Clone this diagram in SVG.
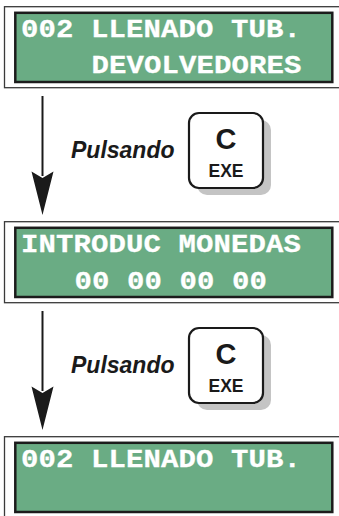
<svg xmlns="http://www.w3.org/2000/svg" width="339" height="516" viewBox="0 0 339 516">
  <style>
    .frame { fill: none; stroke: #3a3a3a; stroke-width: 1.3; }
    .lcd { fill: #6aac84; stroke: #1c1c1c; stroke-width: 2.5; }
    .lcdtxt { font-family: "Liberation Mono", "Courier New", monospace; font-weight: bold; font-size: 29px; fill: #ffffff; stroke: #ffffff; stroke-width: 0.3; text-anchor: middle; white-space: pre; }
    .label { font-family: "Liberation Sans", Arial, sans-serif; font-weight: bold; font-style: italic; font-size: 23px; fill: #1a1a1a; }
    .keyface { fill: #ffffff; stroke: #1a1a1a; stroke-width: 2.2; }
    .keyshadow { fill: #c4c4c4; }
    .keybig { font-family: "Liberation Sans", Arial, sans-serif; font-weight: bold; font-size: 29px; fill: #1a1a1a; text-anchor: middle; }
    .keysmall { font-family: "Liberation Sans", Arial, sans-serif; font-weight: bold; font-size: 17.5px; fill: #1a1a1a; text-anchor: middle; }
    .shaft { stroke: #1a1a1a; stroke-width: 2; fill: none; }
    .head { fill: #1a1a1a; }
  </style>

  <!-- display 1: 16-column character LCD (17.5px cells), glyphs squashed to the LCD cell height -->
  <g id="display1">
    <rect class="frame" x="4.5" y="6.7" width="340" height="81"/>
    <rect class="lcd" x="15.3" y="12.8" width="317" height="69.2"/>
    <g transform="scale(1,0.88)">
      <text class="lcdtxt" y="42.05" x="29.7 47.2 64.7 82.2 99.7 117.2 134.7 152.2 169.7 187.2 204.7 222.2 239.7 257.2 274.7 292.2">002 LLENADO TUB.</text>
      <text class="lcdtxt" y="82.95" x="100.2 117.7 135.2 152.7 170.2 187.7 205.2 222.7 240.2 257.7 275.2 292.7">DEVOLVEDORES</text>
    </g>
  </g>

  <!-- key press 1 -->
  <g id="key1">
    <text class="label" x="71" y="158.3">Pulsando</text>
    <rect class="keyshadow" x="197" y="120" width="74" height="75" rx="10"/>
    <rect class="keyface" x="189" y="113" width="74" height="75" rx="10"/>
    <text class="keybig" x="226" y="148.8">C</text>
    <text class="keysmall" x="226" y="176.8">EXE</text>
  </g>

  <!-- display 2 -->
  <g id="display2">
    <rect class="frame" x="4.5" y="221.7" width="340" height="81"/>
    <rect class="lcd" x="15.3" y="227.8" width="317" height="69.2"/>
    <g transform="scale(1,0.88)">
      <text class="lcdtxt" y="286.36" x="29.7 47.2 64.7 82.2 99.7 117.2 134.7 152.2 169.7 187.2 204.7 222.2 239.7 257.2 274.7 292.2">INTRODUC MONEDAS</text>
      <text class="lcdtxt" y="328.41" x="83.2 100.7 118.2 135.7 153.2 170.7 188.2 205.7 223.2 240.7 258.2">00 00 00 00</text>
    </g>
  </g>

  <!-- key press 2 -->
  <g id="key2">
    <text class="label" x="71" y="373.3">Pulsando</text>
    <rect class="keyshadow" x="197" y="335" width="74" height="75" rx="10"/>
    <rect class="keyface" x="189" y="328" width="74" height="75" rx="10"/>
    <text class="keybig" x="226" y="363.8">C</text>
    <text class="keysmall" x="226" y="391.8">EXE</text>
  </g>

  <!-- display 3 -->
  <g id="display3">
    <rect class="frame" x="4.5" y="436.7" width="340" height="81"/>
    <rect class="lcd" x="15.3" y="442.8" width="317" height="69.2"/>
    <g transform="scale(1,0.88)">
      <text class="lcdtxt" y="530.68" x="29.7 47.2 64.7 82.2 99.7 117.2 134.7 152.2 169.7 187.2 204.7 222.2 239.7 257.2 274.7 292.2">002 LLENADO TUB.</text>
    </g>
  </g>

  <!-- connectors -->
  <g id="connectors">
    <line class="shaft" x1="42.5" y1="96" x2="42.5" y2="176"/>
    <polygon class="head" points="42.5,215 31.5,171.5 42.5,178 53.5,171.5"/>
    <line class="shaft" x1="42.5" y1="311" x2="42.5" y2="391"/>
    <polygon class="head" points="42.5,430 31.5,386.5 42.5,393 53.5,386.5"/>
  </g>
</svg>
